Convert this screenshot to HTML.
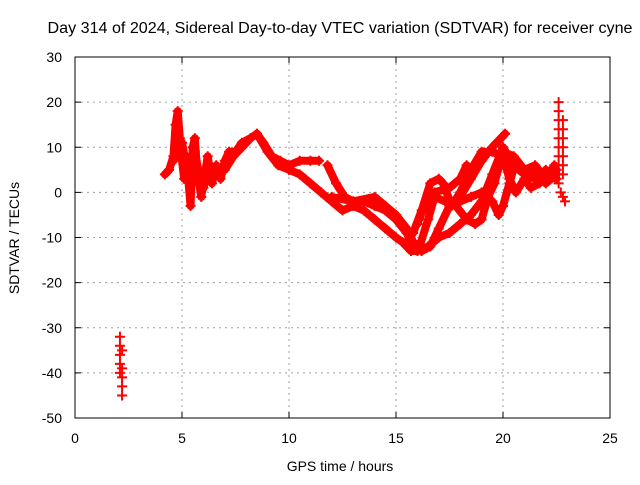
<!DOCTYPE html>
<html><head><meta charset="utf-8"><style>
body{margin:0;background:#fff}
svg text{font-family:"Liberation Sans",sans-serif;fill:#000}
</style></head><body>
<svg id="chart" width="640" height="480">
<text x="340" y="33" font-size="15.5" text-anchor="middle" textLength="585" lengthAdjust="spacingAndGlyphs">Day 314 of 2024, Sidereal Day-to-day VTEC variation (SDTVAR) for receiver cyne</text>
<text x="340" y="471" font-size="14" text-anchor="middle">GPS time / hours</text>
<text transform="translate(19,238) rotate(-90)" font-size="14" text-anchor="middle">SDTVAR / TECUs</text>
<g id="grid"></g><g id="ticks"></g><g id="marks"></g>
<rect x="75" y="57" width="535" height="361" fill="none" stroke="#000"/>
</svg>
<script>
const xTicks=[0,5,10,15,20,25];
const yTicks=[30,20,10,0,-10,-20,-30,-40,-50];
const traceA_x=[4.2,4.4,4.6,4.7,4.8,4.9,5.0,5.1,5.2,5.4,5.5,5.6,5.7,5.9,6.1,6.2,6.4,6.6,6.8,7.0,7.2,7.5,7.8,8.2,8.5,8.8,9.2,9.6,10.0,10.5,11,11.4];
const traceA_y=[4,5,8,15,18,12,7,3,8,-3,10,12,5,-1,5,8,2,6,3,7,9,9,11,12,13,11,8,7,6,7,7,7];
const traceA2_x=[4.6,4.8,5.0,5.2,5.4,5.6,5.8,6.0,6.3,6.6,7.0,7.4,7.8,8.2];
const traceA2_y=[7,9,11,6,3,9,4,1,6,4,5,8,10,12];
const traceB_x=[8.5,9,9.5,10,10.5,11,11.5,12,12.5,13,13.5,14,14.5,15,15.3,15.7,16,16.5,17,17.5,18,18.5,19,19.5,20,20.5,21,21.5,22,22.5];
const traceB_y=[13,9,6,5,4,2,0,-2,-4,-3,-4,-6,-8,-10,-11,-13,-13,-12,-10,-9,-7,-5,-2,4,10,6,4,3,4,5];
const traceC_x=[11.8,12.2,12.6,13,13.5,14,14.5,15,15.5,15.8,16.2,16.6,17,17.5,18,18.5,19,19.5,19.8,20,20.3,20.6,21,21.5,22,22.5];
const traceC_y=[6,2,-1,-2,-2,-3,-4,-6,-9,-12,-13,-12,-8,-3,-2,-1,0,-2,-5,-3,2,7,5,4,2,4];
const traceD_x=[12,13,14,14.5,15,15.5,15.8,16.1,16.5,16.8,17.3,17.8,18.3,18.7,19,19.3,19.6,20,20.5,21,21.5,22,22.4];
const traceD_y=[-1,-2,-1,-3,-5,-8,-11,-12,-6,-1,-2,-3,-6,-7,-6,-1,2,9,8,5,6,3,6];
const traceE_x=[15.5,15.8,16.2,16.6,17,17.2,17.6,18,18.5,19,19.5,20,20.3,20.6,21,21.3,21.7,22,22.5];
const traceE_y=[-11,-9,-4,2,3,2,-3,0,5,9,9,8,3,0,3,1,2,5,3];
const traceF_x=[16,16.4,16.8,17.5,18,18.3];
const traceF_y=[-7,-2,0,1,3,6];
const traceG_x=[18,18.5,19,19.5,20.1];
const traceG_y=[-1,3,7,10,13];
const spike_x=[22.6,22.6,22.6,22.6,22.6,22.6,22.6,22.6,22.6,22.6,22.8,22.8,22.8,22.8,22.8,22.8,22.8,22.7,22.8,22.9];
const spike_y=[20,18,16,14,12,10,8,6,4,2,16,14,12,10,8,6,4,0,-1,-2];
const early_x=[2.1,2.1,2.1,2.1,2.1,2.2,2.2,2.2,2.2,2.2];
const early_y=[-32,-34,-36,-38,-40,-35,-39,-41,-43,-45];

const X=v=>75+v*535/25, Y=v=>418-(v+50)*361/80;
const NS='http://www.w3.org/2000/svg';
function mk(t,a,p){const e=document.createElementNS(NS,t);for(const k in a)e.setAttribute(k,a[k]);p.appendChild(e);return e;}
const grid=document.getElementById('grid'),ticks=document.getElementById('ticks'),marks=document.getElementById('marks');
xTicks.forEach(t=>{const x=X(t);
 if(t>0&&t<25){const g=mk('line',{x1:x,x2:x,y1:57,y2:418,stroke:'#a0a0a0','stroke-dasharray':'2,4'},grid);
 
 }
 mk('line',{x1:x,x2:x,y1:418,y2:412,stroke:'#000'},ticks);mk('line',{x1:x,x2:x,y1:57,y2:63,stroke:'#000'},ticks);
 const l=mk('text',{x:x,y:443,'font-size':14,'text-anchor':'middle'},ticks);l.textContent=t;
 
 });
yTicks.forEach(t=>{const y=Y(t);
 if(t>-50&&t<30){const g=mk('line',{x1:75,x2:610,y1:y,y2:y,stroke:'#a0a0a0','stroke-dasharray':'2,4'},grid);
 
 }
 mk('line',{x1:75,x2:81,y1:y,y2:y,stroke:'#000'},ticks);mk('line',{x1:610,x2:604,y1:y,y2:y,stroke:'#000'},ticks);
 const l=mk('text',{x:62,y:y+5,'font-size':14,'text-anchor':'end'},ticks);l.textContent=t;
 
 });
const traces=[[traceA_x,traceA_y],[traceA2_x,traceA2_y],[traceB_x,traceB_y],[traceC_x,traceC_y],[traceD_x,traceD_y],[traceE_x,traceE_y],[traceF_x,traceF_y],[traceG_x,traceG_y]];
traces.forEach((tr,i)=>{const pts=tr[0].map((v,j)=>X(v)+','+Y(tr[1][j])).join(' ');
 const p=mk('polyline',{points:pts,fill:'none',stroke:'#ff0000','stroke-width':8,'stroke-linejoin':'round','stroke-linecap':'round'},marks);
 
 });
function plus(x,y){const d=`M${x-5},${y}H${x+5}M${x},${y-5}V${y+5}`;
 const p=mk('path',{d:d,stroke:'#ff0000','stroke-width':2},marks);
 
 }
traces.forEach(tr=>tr[0].forEach((v,j)=>plus(X(v),Y(tr[1][j]))));
spike_x.forEach((v,j)=>plus(X(v),Y(spike_y[j])));
early_x.forEach((v,j)=>plus(X(v),Y(early_y[j])));
</script>
</body></html>
